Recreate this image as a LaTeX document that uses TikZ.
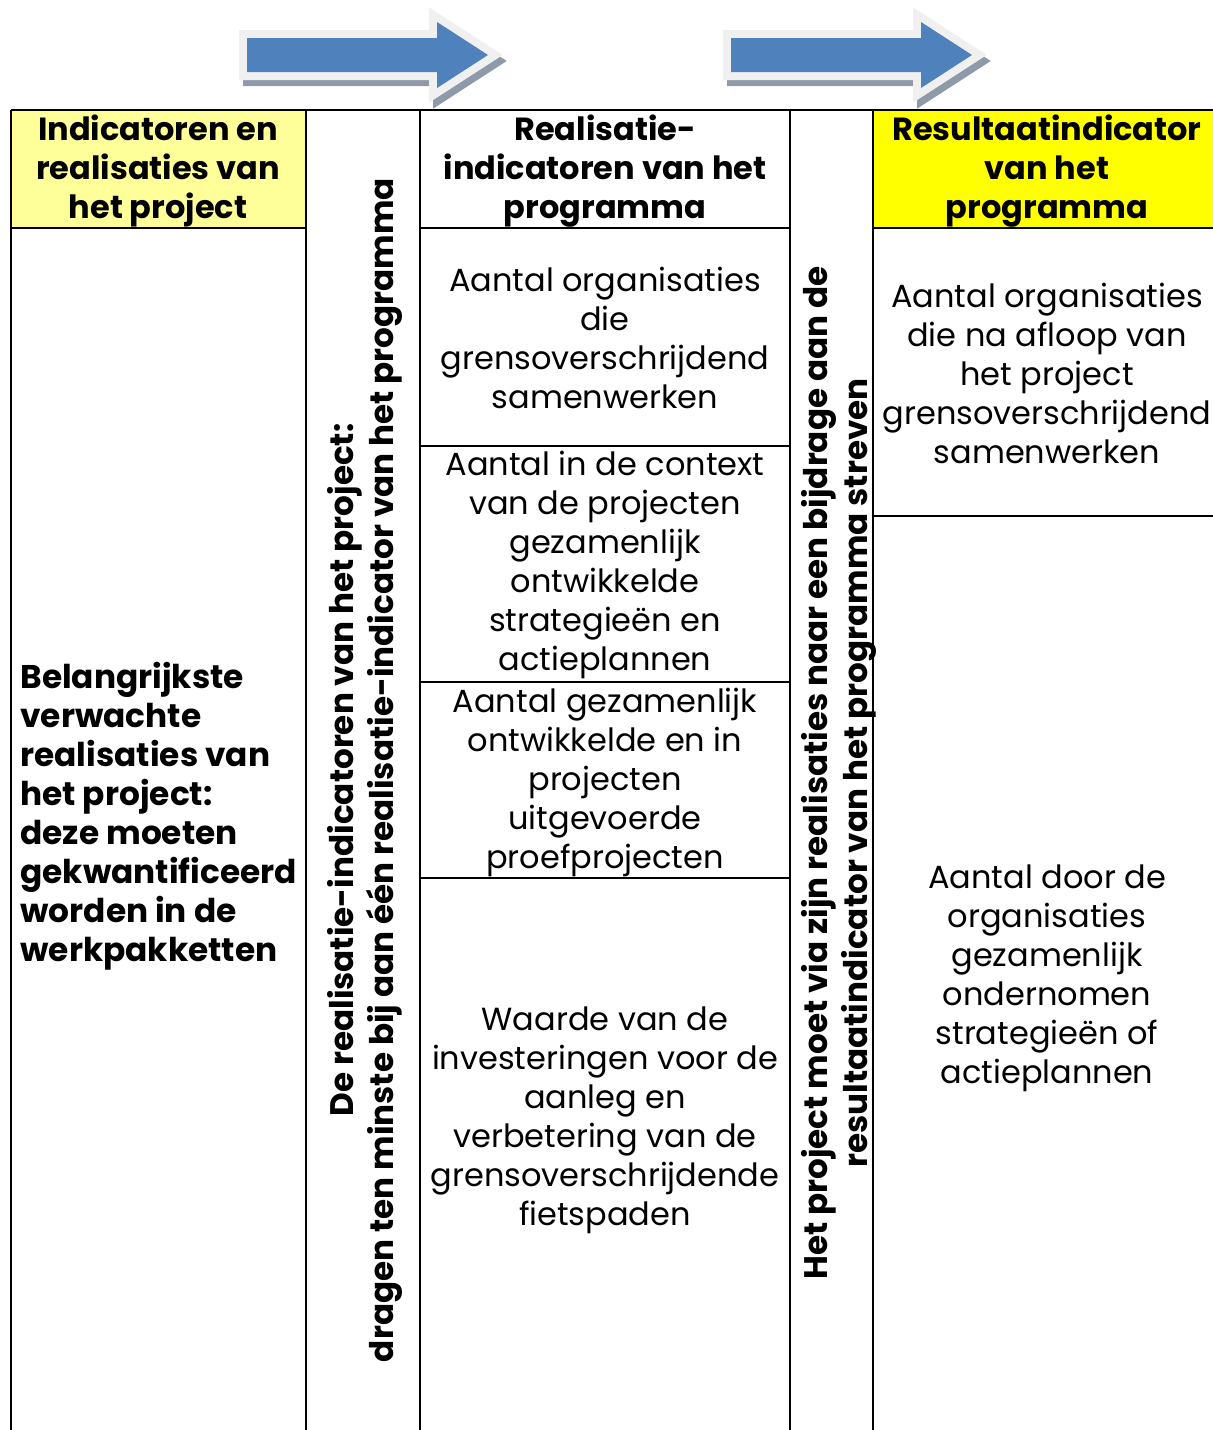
\documentclass[tikz,border=0pt]{standalone}
\usepackage{fontspec}
\setmainfont{Poppins}
\usetikzlibrary{positioning}

\definecolor{arrowblue}{HTML}{4F81BD}
\definecolor{arrowshadow}{HTML}{8E9AAA}
\definecolor{arrowrim}{HTML}{F0F0F0}
\definecolor{paleyellow}{HTML}{FFFF99}
\definecolor{brightyellow}{HTML}{FFFF00}

\tikzset{
  cell/.style={align=center, inner sep=0pt, font=\fontsize{16}{19.5}\selectfont},
  head/.style={align=center, inner sep=0pt, font=\fontsize{16}{19.5}\selectfont\bfseries},
  side/.style={rotate=90, align=center, inner sep=0pt, font=\fontsize{16.3}{20}\selectfont\bfseries},
  grid/.style={line width=1pt, draw=black},
}

\begin{document}
\begin{tikzpicture}[x=0.5pt, y=-0.5pt]
\useasboundingbox (0,0) rectangle (1213,1430);

% arrows on top
\foreach \dx in {0,484} {
  \begin{scope}[shift={(\dx,0)}]
    \filldraw[arrowshadow, line width=8pt, shift={(4,6)}]
      (247,38) -- (437,38) -- (437,22) -- (488,55) -- (437,88) -- (437,72) -- (247,72) -- cycle;
    \filldraw[arrowrim, line width=8pt]
      (247,38) -- (437,38) -- (437,22) -- (488,55) -- (437,88) -- (437,72) -- (247,72) -- cycle;
    \fill[arrowblue]
      (247,38) -- (437,38) -- (437,22) -- (488,55) -- (437,88) -- (437,72) -- (247,72) -- cycle;
  \end{scope}
}

% header fills
\fill[paleyellow] (11,110) rectangle (306,228);
\fill[brightyellow] (873,110) rectangle (1213,228);

% table lines
\draw[grid] (11,110) -- (1213,110);
\foreach \x in {11,306,420,790,873}
  \draw[grid] (\x,110) -- (\x,1430);
\draw[grid] (11,228) -- (306,228);
\draw[grid] (420,228) -- (790,228);
\draw[grid] (873,228) -- (1213,228);
\foreach \y in {446,682,878}
  \draw[grid] (420,\y) -- (790,\y);
\draw[grid] (873,516) -- (1213,516);

% headers
\node[head] (projhead) at (158,171) {Indicatoren en\\realisaties van\\het project};
\node[head] (realhead) at (605,171) {Realisatie-\\indicatoren van het\\programma};
\node[head] (resulthead) at (1047,171) {Resultaatindicator\\van het\\programma};

% project column
\node[head, align=left, anchor=west, font=\fontsize{16.4}{19.5}\selectfont\bfseries] (projbody) at (20,816)
  {Belangrijkste\\verwachte\\realisaties van\\het project:\\deze moeten\\gekwantificeerd\\worden in de\\werkpakketten};

% rotated texts
\node[side] (linkone) at (365,770)
  {De realisatie-indicatoren van het project:\\dragen ten minste bij aan één realisatie-indicator van het programma};
\node[side] (linktwo) at (839,773)
  {Het project moet via zijn realisaties naar een bijdrage aan de\\resultaatindicator van het programma streven};

% realisation indicators
\node[cell] (realone) at (605,338) {Aantal organisaties\\die\\grensoverschrijdend\\samenwerken};
\node[cell] (realtwo) at (605,565) {Aantal in de context\\van de projecten\\gezamenlijk\\ontwikkelde\\strategieën en\\actieplannen};
\node[cell] (realthree) at (605,782) {Aantal gezamenlijk\\ontwikkelde en in\\projecten\\uitgevoerde\\proefprojecten};
\node[cell] (realfour) at (605,1120) {Waarde van de\\investeringen voor de\\aanleg en\\verbetering van de\\grensoverschrijdende\\fietspaden};

% result indicators
\node[cell] (resultone) at (1047,373) {Aantal organisaties\\die na afloop van\\het project\\grensoverschrijdend\\samenwerken};
\node[cell] (resulttwo) at (1047,978) {Aantal door de\\organisaties\\gezamenlijk\\ondernomen\\strategieën of\\actieplannen};
\end{tikzpicture}
\end{document}
